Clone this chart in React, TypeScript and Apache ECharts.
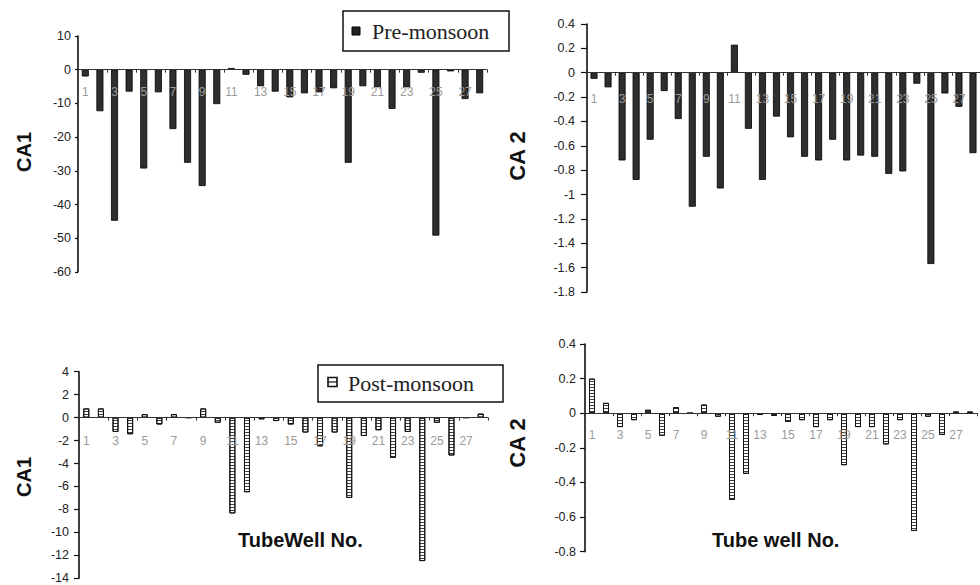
import React, { useEffect, useRef } from "react";
import * as echarts from "echarts";

const categories = ["1","2","3","4","5","6","7","8","9","10","11","12","13","14","15","16","17","18","19","20","21","22","23","24","25","26","27","28"];

const preCA1 = [-2.0, -12.3, -44.8, -6.5, -29.3, -6.7, -17.6, -27.6, -34.5, -10.2, 0.5, -1.5, -4.9, -6.5, -8.2, -7.0, -6.7, -5.5, -27.6, -4.9, -5.2, -11.6, -5.2, -0.9, -49.2, -0.5, -8.7, -7.0];
const preCA2 = [-0.05, -0.12, -0.72, -0.88, -0.55, -0.15, -0.38, -1.10, -0.69, -0.95, 0.23, -0.46, -0.88, -0.36, -0.53, -0.69, -0.72, -0.55, -0.72, -0.68, -0.69, -0.83, -0.81, -0.09, -1.57, -0.17, -0.28, -0.66];
const postCA1 = [0.8, 0.8, -1.25, -1.45, 0.3, -0.6, 0.3, 0, 0.8, -0.45, -8.35, -6.5, -0.15, -0.3, -0.6, -1.3, -2.5, -1.3, -7.0, -1.6, -1.1, -3.5, -1.25, -12.5, -0.45, -3.3, 0, 0.35];
const postCA2 = [0.2, 0.06, -0.08, -0.04, 0.02, -0.13, 0.035, 0, 0.05, -0.02, -0.5, -0.35, -0.01, -0.015, -0.05, -0.04, -0.08, -0.04, -0.3, -0.08, -0.08, -0.18, -0.04, -0.68, -0.02, -0.125, 0.01, 0.01];

const yRanges = [
  { min: -60, max: 10, interval: 10 },
  { min: -1.8, max: 0.4, interval: 0.2 },
  { min: -14, max: 4, interval: 2 },
  { min: -0.8, max: 0.4, interval: 0.2 },
];

const legendLabels = ["Pre-monsoon", "Post-monsoon"];
const yNames = ["CA1", "CA 2", "CA1", "CA 2"];
const xNames = ["TubeWell No.", "Tube well No."];

const SANS = "'Liberation Sans', Arial, sans-serif";
const SERIF = "'Liberation Serif', 'Times New Roman', serif";

export default function App() {
  const ref = useRef<HTMLDivElement>(null);
  useEffect(() => {
    if (!ref.current) return;
    const chart = echarts.init(ref.current, undefined, { renderer: "svg" });
    const grids = [
      { left: 78, top: 36, width: 409, height: 236 },
      { left: 587, top: 24, width: 406, height: 268 },
      { left: 79, top: 371.7, width: 409, height: 206.6 },
      { left: 585, top: 344, width: 392, height: 207.7 },
    ];
    const xMargins = [16, 20, 17, 16];
    const yMargins = [7, 12, 10, 9];
    const tickLens = [3, 6, 5, 5];
    const seriesData = [preCA1, preCA2, postCA1, postCA2];

    const option: any = {
      animation: false,
      grid: grids.map((g) => ({ ...g, containLabel: false })),
      xAxis: grids.map((g, i) => {
        const r = yRanges[i];
        const zeroOffset = -(g.height * (0 - r.min)) / (r.max - r.min);
        return {
          type: "category",
          gridIndex: i,
          data: categories,
          position: "bottom",
          offset: zeroOffset,
          z: 5,
          axisLine: { show: true, onZero: false, lineStyle: { color: "#333", width: 1.2 } },
          axisTick: { show: true, length: 3, lineStyle: { color: "#333" } },
          axisLabel: { interval: 1, color: "#9a9a9a", fontSize: 12, margin: xMargins[i], fontFamily: SANS },
          splitLine: { show: false },
        };
      }),
      yAxis: grids.map((_, i) => ({
        type: "value",
        gridIndex: i,
        min: yRanges[i].min,
        max: yRanges[i].max,
        interval: yRanges[i].interval,
        axisLine: { show: true, lineStyle: { color: "#111", width: 1.6 } },
        axisTick: { show: true, length: tickLens[i], lineStyle: { color: "#111", width: 1.2 } },
        axisLabel: { color: "#222", fontSize: 12.5, margin: yMargins[i], fontFamily: SANS },
        splitLine: { show: false },
      })),
      series: seriesData.map((d, i) => {
        const post = i >= 2;
        return {
          type: "bar",
          xAxisIndex: i,
          yAxisIndex: i,
          data: d,
          barWidth: post ? 6 : 7,
          itemStyle: post
            ? {
                color: "#ffffff",
                borderColor: "#111",
                borderWidth: 1,
                decal: {
                  symbol: "rect",
                  symbolSize: 1,
                  dashArrayX: [1, 0],
                  dashArrayY: [1, 2],
                  color: "rgba(0,0,0,0.75)",
                },
              }
            : { color: "#2e2e2e", borderColor: "#000", borderWidth: 0.8 },
        };
      }),
      graphic: [
        { type: "rect", shape: { x: 343, y: 11, width: 166, height: 40 }, style: { fill: "#fff", stroke: "#111", lineWidth: 1.5 }, z: 100 },
        { type: "rect", shape: { x: 352, y: 27, width: 8, height: 8 }, style: { fill: "#222", stroke: "#000", lineWidth: 1 }, z: 101 },
        { type: "text", x: 372, y: 31.5, style: { text: legendLabels[0], font: `22px ${SERIF}`, fill: "#222", textVerticalAlign: "middle" }, z: 101 },
        { type: "rect", shape: { x: 318, y: 365, width: 185, height: 37 }, style: { fill: "#fff", stroke: "#111", lineWidth: 1.5 }, z: 100 },
        { type: "rect", shape: { x: 328, y: 377.5, width: 9, height: 9 }, style: { fill: "#fff", stroke: "#111", lineWidth: 1.6 }, z: 101 },
        { type: "line", shape: { x1: 328, y1: 382, x2: 337, y2: 382 }, style: { stroke: "#111", lineWidth: 1.2 }, z: 101 },
        { type: "text", x: 348, y: 383.5, style: { text: legendLabels[1], font: `22px ${SERIF}`, fill: "#222", textVerticalAlign: "middle" }, z: 101 },
        { type: "text", x: 24, y: 152, rotation: Math.PI / 2, style: { text: yNames[0], font: `bold 20px ${SANS}`, fill: "#111", textAlign: "center", textVerticalAlign: "middle" } },
        { type: "text", x: 517, y: 156, rotation: Math.PI / 2, style: { text: yNames[1], font: `bold 22px ${SANS}`, fill: "#111", textAlign: "center", textVerticalAlign: "middle" } },
        { type: "text", x: 24, y: 477, rotation: Math.PI / 2, style: { text: yNames[2], font: `bold 20px ${SANS}`, fill: "#111", textAlign: "center", textVerticalAlign: "middle" } },
        { type: "text", x: 517, y: 443, rotation: Math.PI / 2, style: { text: yNames[3], font: `bold 22px ${SANS}`, fill: "#111", textAlign: "center", textVerticalAlign: "middle" } },
        { type: "text", x: 238, y: 540, style: { text: xNames[0], font: `bold 20px ${SANS}`, fill: "#111", textVerticalAlign: "middle" } },
        { type: "text", x: 712, y: 540, style: { text: xNames[1], font: `bold 20px ${SANS}`, fill: "#111", textVerticalAlign: "middle" } },
      ],
    };
    chart.setOption(option);
    return () => chart.dispose();
  }, []);
  return (
    <div
      ref={ref}
      style={{ position: "fixed", left: 0, top: 0, width: 980, height: 585, background: "#fff" }}
    />
  );
}
